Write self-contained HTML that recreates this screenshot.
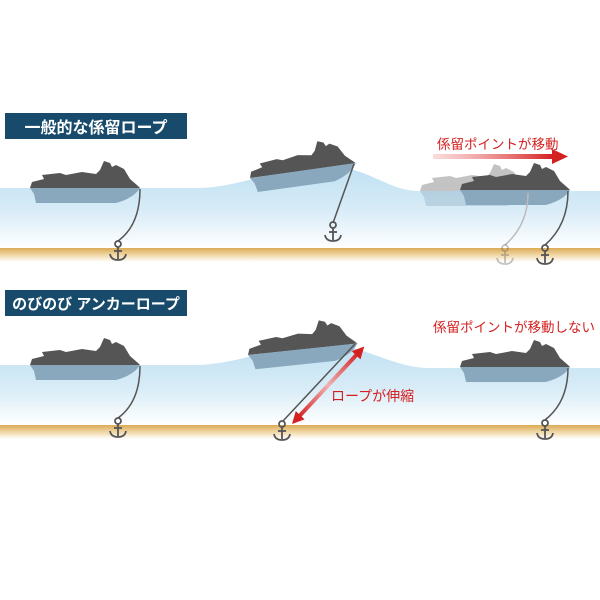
<!DOCTYPE html>
<html><head><meta charset="utf-8"><style>
html,body{margin:0;padding:0;background:#fff;}
svg{display:block;}
text{font-family:"Liberation Sans","Noto Sans CJK JP",sans-serif;}
</style></head><body>
<svg width="600" height="600" viewBox="0 0 600 600" xmlns="http://www.w3.org/2000/svg">
<defs>
<linearGradient id="w1" x1="0" y1="0" x2="0" y2="1">
<stop offset="0" stop-color="#bfe0f2"/><stop offset="0.55" stop-color="#d8ecf7"/><stop offset="1" stop-color="#ffffff"/></linearGradient>
<linearGradient id="s1" x1="0" y1="0" x2="0" y2="1">
<stop offset="0" stop-color="#dcaa55"/><stop offset="0.5" stop-color="#f0d7a6"/><stop offset="1" stop-color="#ffffff"/></linearGradient>
<linearGradient id="ar" x1="0" y1="0" x2="1" y2="0">
<stop offset="0" stop-color="#e88" stop-opacity="0.3"/><stop offset="1" stop-color="#d42020"/></linearGradient>
<linearGradient id="ar2" x1="0" y1="0" x2="1" y2="0">
<stop offset="0" stop-color="#d42020"/><stop offset="0.5" stop-color="#f2b0b0"/><stop offset="1" stop-color="#d42020"/></linearGradient>
<g id="boat">
<path d="M0,0 L2,-6 L14,-9 L12,-13 L30,-15 L36,-13 L52,-16 L66,-14 L70,-18 L74,-27 L80,-25 L82,-21 L86,-23 L94,-19 L100,-9 L108,-2 L110,0 Z" fill="#555"/>
<path d="M0,0 L110,0 Q104,10 86,15 L6,15 L4,6 Z" fill="#89a8bd"/>
</g>
<g id="anchor" fill="none" stroke="#555" stroke-width="1.8">
<circle cx="0" cy="-6" r="3"/><line x1="0" y1="-3" x2="0" y2="9"/><line x1="-4" y1="1" x2="4" y2="1"/>
<path d="M-8,4 Q-7,10 0,10 Q7,10 8,4"/>
</g>
</defs>

<!-- Panel 1 -->
<path d="M0,188 L200,188 C250,186 290,162 330,166 C370,168 390,192 420,191 L600,191 L600,248 L0,248 Z" fill="url(#w1)"/>
<rect x="0" y="248" width="600" height="14" fill="url(#s1)"/>
<rect x="5" y="113" width="182" height="26" fill="#184b6b"/>
<text x="96" y="133" font-size="16" font-weight="bold" fill="#fff" text-anchor="middle">一般的な係留ロープ</text>

<use href="#boat" x="30" y="188"/>
<path d="M140,189 Q140,225 118,241" fill="none" stroke="#555" stroke-width="1.5"/>
<use href="#anchor" x="118" y="250"/>

<g transform="translate(250,178) rotate(-8)"><use href="#boat" transform="scale(0.97,1)"/></g>
<line x1="354" y1="164" x2="333" y2="223" stroke="#555" stroke-width="1.5"/>
<use href="#anchor" x="333" y="231"/>

<g opacity="0.35"><use href="#boat" x="420" y="191"/></g>
<use href="#boat" x="460" y="190"/>
<path d="M528,193 Q528,225 505,245" fill="none" stroke="#bbb" stroke-width="1.5"/>
<g opacity="0.35"><use href="#anchor" x="505" y="254"/></g>
<path d="M568,191 Q568,225 545,245" fill="none" stroke="#555" stroke-width="1.5"/>
<use href="#anchor" x="545" y="254"/>
<rect x="433" y="154" width="120" height="5" fill="url(#ar)"/>
<polygon points="552,149 568,156.5 552,164" fill="#d42020"/>
<text x="437" y="149" font-size="13.5" fill="#d42020">係留ポイントが移動</text>

<!-- Panel 2 -->
<path d="M0,365 L200,365 C250,362 290,340 330,344 C370,348 395,368 430,368 L600,368 L600,425 L0,425 Z" fill="url(#w1)"/>
<rect x="0" y="425" width="600" height="14" fill="url(#s1)"/>
<rect x="5" y="290" width="182" height="26" fill="#184b6b"/>
<text x="96" y="309" font-size="15" font-weight="bold" fill="#fff" text-anchor="middle">のびのび アンカーロープ</text>

<use href="#boat" x="30" y="365"/>
<path d="M140,366 Q140,402 118,418" fill="none" stroke="#555" stroke-width="1.5"/>
<use href="#anchor" x="118" y="427"/>

<g transform="translate(248,355) rotate(-6)"><use href="#boat"/></g>
<line x1="355" y1="344" x2="283" y2="421" stroke="#555" stroke-width="1.5"/>
<use href="#anchor" x="282" y="430"/>
<g transform="translate(292,424) rotate(-47)">
<rect x="8" y="-2" width="90" height="4" fill="url(#ar2)"/>
<polygon points="0,0 12,-6 12,6" fill="#d42020"/>
<polygon points="106,0 94,-6 94,6" fill="#d42020"/>
</g>
<text x="331" y="401" font-size="14" fill="#d42020">ロープが伸縮</text>

<use href="#boat" x="460" y="367"/>
<path d="M568,368 Q568,402 545,420" fill="none" stroke="#555" stroke-width="1.5"/>
<use href="#anchor" x="545" y="429"/>
<text x="433" y="332" font-size="13.5" fill="#d42020">係留ポイントが移動しない</text>
</svg>
</body></html>
